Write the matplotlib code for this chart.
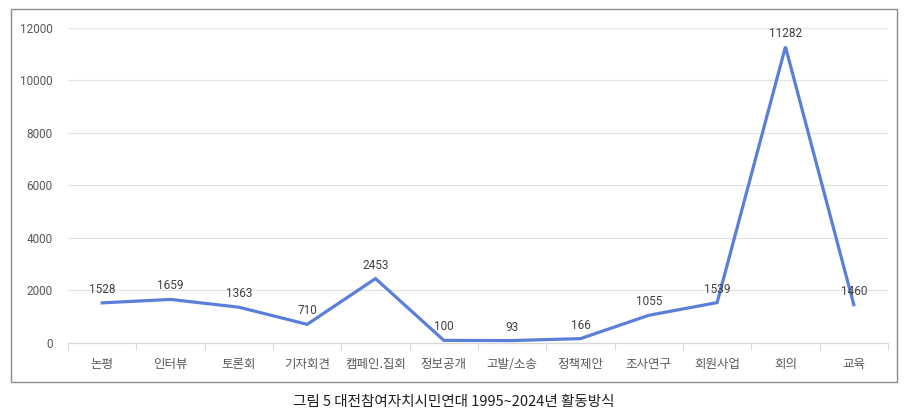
import matplotlib
matplotlib.use("Agg")
import matplotlib.pyplot as plt
from matplotlib.patches import Rectangle

plt.rcParams['font.family'] = ['Roboto', 'Noto Sans CJK KR', 'DejaVu Sans']

categories = ['논평', '인터뷰', '토론회', '기자회견', '캠페인.집회', '정보공개',
              '고발/소송', '정책제안', '조사연구', '회원사업', '회의', '교육']
values = [1528, 1659, 1363, 710, 2453, 100, 93, 166, 1055, 1539, 11282, 1460]
yticks = [0, 2000, 4000, 6000, 8000, 10000, 12000]
caption = '그림 5 대전참여자치시민연대 1995~2024년 활동방식'

txt = '#595959'
line_col = '#5b7fd9'

fig = plt.figure(figsize=(9.07, 4.16), dpi=100)
ax = fig.add_axes([0.075, 0.1755, 0.904, 0.7575])

x = list(range(len(categories)))
ax.plot(x, values, color=line_col, linewidth=2.3, solid_joinstyle='miter')
for xi, v in zip(x, values):
    ax.annotate(str(v), (xi, v), xytext=(0, 5), textcoords='offset points',
                ha='center', va='bottom', fontsize=8.5, color='#404040')

ax.set_xlim(-0.5, len(categories) - 0.5)
ax.set_ylim(0, 12000)
ax.set_yticks(yticks)
ax.set_yticklabels([str(t) for t in yticks], fontsize=8.5, color=txt)
ax.set_xticks(x)
ax.set_xticklabels(categories, fontsize=9, color=txt,
                   family=['Noto Sans CJK KR', 'DejaVu Sans'], weight='light')
ax.tick_params(axis='x', length=0, pad=11)
ax.tick_params(axis='y', length=0, pad=11)
# tick marks between categories
ax.set_xticks([i - 0.5 for i in range(len(categories) + 1)], minor=True)
ax.tick_params(axis='x', which='minor', length=5, color='#d9d9d9', width=0.8)

ax.grid(axis='y', color='#e3e3e3', linewidth=0.9)
ax.set_axisbelow(True)
for s in ['top', 'right', 'left']:
    ax.spines[s].set_visible(False)
ax.spines['bottom'].set_color('#d9d9d9')
ax.spines['bottom'].set_linewidth(0.9)

fig.patches.append(Rectangle((0.0121, 0.0817), 0.9769, 0.8963, transform=fig.transFigure,
                             fill=False, edgecolor='#8c8c8c', linewidth=1.0))
fig.text(0.5, 0.034, caption, ha='center', va='center', fontsize=10.5, color='#202020',
         family=['Noto Sans CJK KR', 'DejaVu Sans'], weight='medium')

fig.savefig('out.png', dpi=100)
